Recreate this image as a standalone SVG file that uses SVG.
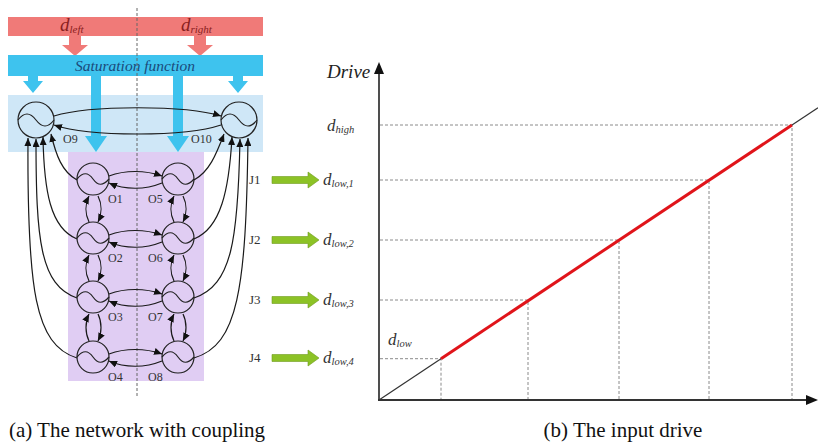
<svg xmlns="http://www.w3.org/2000/svg" width="818" height="446" viewBox="0 0 818 446">
<defs>
<marker id="ah" markerUnits="userSpaceOnUse" markerWidth="8" markerHeight="7" refX="8" refY="3.5" orient="auto"><path d="M0,0 L8,3.5 L0,7 z" fill="#111"/></marker>
<style>
.osc circle{fill:none;stroke:#222;stroke-width:1.2}
.osc path{fill:none;stroke:#222;stroke-width:1.2}
.lbl{font-family:"Liberation Serif",serif;font-size:12px;fill:#333}
.jl{font-family:"Liberation Serif",serif;font-size:13px;fill:#333}
.conn path{fill:none;stroke:#1a1a1a;stroke-width:1.2;marker-end:url(#ah)}
.it{font-family:"Liberation Serif",serif;font-style:italic}
.dash{stroke:#8a8a8a;stroke-width:1;stroke-dasharray:3,2;fill:none}
.green{fill:#8cc226;stroke:#6f9a1c;stroke-width:0.6}
.cyan{fill:#3ec3ee}
.red{fill:#f07a78}
.cap{font-family:"Liberation Serif",serif;font-size:21px;fill:#111}
</style>
</defs>
<rect width="818" height="446" fill="#fff"/>
<!-- backgrounds -->
<rect x="8" y="95" width="255" height="57" fill="#cfe7f7"/>
<rect x="68" y="152" width="136" height="229" fill="#e0cdf3"/>
<!-- red bar -->
<g id="drive_bar">
<rect class="red" x="8" y="17" width="255" height="19"/>
<text class="it" x="60" y="31" font-size="19" fill="#8a2020">d<tspan font-size="11" dy="2">left</tspan></text>
<text class="it" x="181" y="31" font-size="19" fill="#8a2020">d<tspan font-size="11" dy="2">right</tspan></text>
<polygon class="red" points="69,36 81,36 81,45 88,45 75,56 62,45 69,45"/>
<polygon class="red" points="194,36 206,36 206,45 213,45 200,56 187,45 194,45"/>
</g>
<!-- saturation -->
<g id="saturation">
<rect class="cyan" x="8" y="55" width="255" height="21"/>
<text class="it" x="135" y="70.5" font-size="15.5" fill="#1b4a7a" text-anchor="middle">Saturation function</text>
<polygon class="cyan" points="28,76 38,76 38,81 43,81 33,93 23,81 28,81"/>
<polygon class="cyan" points="233,76 243,76 243,81 248,81 238,93 228,81 233,81"/>
<polygon class="cyan" points="91,76 101,76 101,136 107,136 96,152 85,136 91,136"/>
<polygon class="cyan" points="173,76 183,76 183,136 189,136 178,152 167,136 173,136"/>
</g>
<line x1="137" y1="8" x2="137" y2="398" stroke="#666" stroke-width="1" stroke-dasharray="3,2"/>
<!-- oscillators -->
<g id="O9" class="osc" transform="translate(36,120)"><circle r="18"/><path d="M-18,0 C-12,-8 -6,-8 0,0 C6,8 12,8 18,0"/><text class="lbl" x="27" y="23">O9</text></g>
<g id="O10" class="osc" transform="translate(239,120)"><circle r="18"/><path d="M-18,0 C-12,-8 -6,-8 0,0 C6,8 12,8 18,0"/><text class="lbl" x="-48" y="23">O10</text></g>
<g id="O1" class="osc" transform="translate(93,179)"><circle r="16"/><path d="M-16,0 C-10,-7 -5,-7 0,0 C5,7 10,7 16,0"/><text class="lbl" x="15" y="24">O1</text></g>
<g id="O2" class="osc" transform="translate(93,238)"><circle r="16"/><path d="M-16,0 C-10,-7 -5,-7 0,0 C5,7 10,7 16,0"/><text class="lbl" x="15" y="24">O2</text></g>
<g id="O3" class="osc" transform="translate(93,297)"><circle r="16"/><path d="M-16,0 C-10,-7 -5,-7 0,0 C5,7 10,7 16,0"/><text class="lbl" x="15" y="24">O3</text></g>
<g id="O4" class="osc" transform="translate(93,357)"><circle r="16"/><path d="M-16,0 C-10,-7 -5,-7 0,0 C5,7 10,7 16,0"/><text class="lbl" x="15" y="24">O4</text></g>
<g id="O5" class="osc" transform="translate(178,179)"><circle r="16"/><path d="M-16,0 C-10,-7 -5,-7 0,0 C5,7 10,7 16,0"/><text class="lbl" x="-30" y="24">O5</text></g>
<g id="O6" class="osc" transform="translate(178,238)"><circle r="16"/><path d="M-16,0 C-10,-7 -5,-7 0,0 C5,7 10,7 16,0"/><text class="lbl" x="-30" y="24">O6</text></g>
<g id="O7" class="osc" transform="translate(178,297)"><circle r="16"/><path d="M-16,0 C-10,-7 -5,-7 0,0 C5,7 10,7 16,0"/><text class="lbl" x="-30" y="24">O7</text></g>
<g id="O8" class="osc" transform="translate(178,357)"><circle r="16"/><path d="M-16,0 C-10,-7 -5,-7 0,0 C5,7 10,7 16,0"/><text class="lbl" x="-30" y="24">O8</text></g>
<!-- connectors -->
<g id="connectors" class="conn">
<path d="M54,116 C90,105 185,105 221,116"/>
<path d="M221,125 C185,137 90,137 54,125"/>
<path d="M109,176 C125,170 145,170 162,176"/>
<path d="M162,183 C145,190 125,190 109,183"/>
<path d="M109,235 C125,229 145,229 162,235"/>
<path d="M162,242 C145,249 125,249 109,242"/>
<path d="M109,294 C125,288 145,288 162,294"/>
<path d="M162,301 C145,308 125,308 109,301"/>
<path d="M109,354 C125,348 145,348 162,354"/>
<path d="M162,361 C145,368 125,368 109,361"/>
<path d="M89,222 C85,214 85,204 89,196"/>
<path d="M98,196 C102,204 102,214 98,222"/>
<path d="M89,281 C85,273 85,263 89,255"/>
<path d="M98,255 C102,263 102,273 98,281"/>
<path d="M89,341 C85,333 85,322 89,314"/>
<path d="M98,314 C102,322 102,333 98,341"/>
<path d="M174,222 C170,214 170,204 174,196"/>
<path d="M183,196 C187,204 187,214 183,222"/>
<path d="M174,281 C170,273 170,263 174,255"/>
<path d="M183,255 C187,263 187,273 183,281"/>
<path d="M174,341 C170,333 170,322 174,314"/>
<path d="M183,314 C187,322 187,333 183,341"/>
<path d="M77,180 C62,172 56,155 51,134"/>
<path d="M77,239 C50,228 44,190 43,137"/>
<path d="M77,298 C40,285 36,240 36,139"/>
<path d="M77,358 C35,345 27,290 28,138"/>
<path d="M194,180 C209,172 216,155 224,134"/>
<path d="M194,239 C221,228 229,190 232,137"/>
<path d="M194,298 C232,285 238,240 240,139"/>
<path d="M194,358 C238,345 246,290 248,138"/>
</g>
<!-- J inputs -->
<g id="J1"><text class="jl" x="249" y="184">J1</text><polygon class="green" points="272,176.5 308,176.5 308,172 319,180 308,188 308,183.5 272,183.5"/><text class="it" x="323" y="185" font-size="17" fill="#333">d<tspan font-size="10.5" dy="2">low,1</tspan></text></g>
<g id="J2"><text class="jl" x="249" y="244">J2</text><polygon class="green" points="272,236.5 308,236.5 308,232 319,240 308,248 308,243.5 272,243.5"/><text class="it" x="323" y="245" font-size="17" fill="#333">d<tspan font-size="10.5" dy="2">low,2</tspan></text></g>
<g id="J3"><text class="jl" x="249" y="304">J3</text><polygon class="green" points="272,296.5 308,296.5 308,292 319,300 308,308 308,303.5 272,303.5"/><text class="it" x="323" y="305" font-size="17" fill="#333">d<tspan font-size="10.5" dy="2">low,3</tspan></text></g>
<g id="J4"><text class="jl" x="249" y="362">J4</text><polygon class="green" points="272,354.5 308,354.5 308,350 319,358 308,366 308,361.5 272,361.5"/><text class="it" x="323" y="363" font-size="17" fill="#333">d<tspan font-size="10.5" dy="2">low,4</tspan></text></g>
<!-- chart -->
<g id="chart">
<path class="dash" d="M380,125 H792 V400 M380,180 H709 V400 M380,240 H619 V400 M380,300 H528 V400 M380,358.7 H441 V400"/>
<line x1="379" y1="401" x2="379" y2="72" stroke="#222" stroke-width="1.6"/>
<polygon points="379,62 374,74 384,74" fill="#111"/>
<line x1="378" y1="400" x2="808" y2="400" stroke="#333" stroke-width="1.8"/>
<polygon points="818,400 806,395 806,405" fill="#111"/>
<line x1="379" y1="400" x2="441" y2="358.7" stroke="#333" stroke-width="1.2"/>
<line x1="441" y1="358.7" x2="792" y2="125" stroke="#e0141a" stroke-width="3"/>
<line x1="792" y1="125" x2="818" y2="107.7" stroke="#333" stroke-width="1.2"/>
<text class="it" x="327" y="78" font-size="19" fill="#222">Drive</text>
<text class="it" x="327" y="131" font-size="17" fill="#333">d<tspan font-size="10.5" dy="2">high</tspan></text>
<text class="it" x="388" y="345" font-size="17" fill="#333">d<tspan font-size="10.5" dy="2">low</tspan></text>
</g>
<text class="cap" x="137" y="437" text-anchor="middle">(a) The network with coupling</text>
<text class="cap" x="623" y="437" text-anchor="middle">(b) The input drive</text>
</svg>
